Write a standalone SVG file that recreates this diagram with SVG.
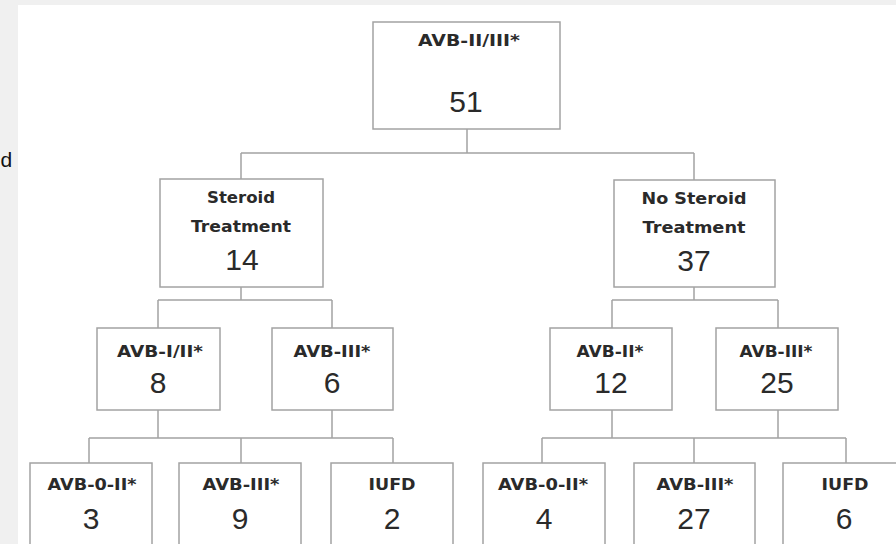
<svg xmlns="http://www.w3.org/2000/svg" width="896" height="544" viewBox="0 0 896 544">
<style>
.box{fill:#ffffff;stroke:#a3a3a3;stroke-width:1.5}
.ln{stroke:#a3a3a3;stroke-width:1.5;fill:none}
.lb{font-family:"DejaVu Sans","Liberation Sans",sans-serif;font-weight:bold;font-size:16px;fill:#2a2a2a;text-anchor:middle}
.num{font-family:"Liberation Sans","Open Sans",sans-serif;font-size:30px;fill:#2a2a2a;text-anchor:middle}
</style>
<rect x="0" y="0" width="896" height="544" fill="#f0f0f0"/>
<rect x="18" y="5" width="878" height="539" fill="#ffffff"/>
<text x="0.5" y="167" font-family="Liberation Sans, sans-serif" font-size="21" fill="#111">d</text>
<g id="connectors" class="ln">
<path d="M467 129V153M241 153H694M241 153V179M694 153V180"/>
<path d="M241 287V300M158 300H332M158 300V328M332 300V328"/>
<path d="M694 287V300M612 300H778M612 300V328M778 300V328"/>
<path d="M158 410V438M332 410V438M89 438H393M89 438V463M241 438V463M393 438V463"/>
<path d="M612 410V438M778 410V438M542 438H846M542 438V463M694 438V463M846 438V463"/>
</g>
<g id="root"><rect class="box" x="373" y="22" width="187" height="107"/><text class="lb" x="469" y="46" textLength="102" lengthAdjust="spacingAndGlyphs">AVB-II/III*</text><text class="num" x="466" y="112">51</text></g>
<g id="steroid"><rect class="box" x="160" y="179" width="163" height="108"/><text class="lb" x="241" y="203" textLength="68" lengthAdjust="spacingAndGlyphs">Steroid</text><text class="lb" x="241" y="232" textLength="100" lengthAdjust="spacingAndGlyphs">Treatment</text><text class="num" x="242" y="270">14</text></g>
<g id="nosteroid"><rect class="box" x="614" y="180" width="161" height="107"/><text class="lb" x="694" y="204" textLength="105" lengthAdjust="spacingAndGlyphs">No Steroid</text><text class="lb" x="694" y="233" textLength="103" lengthAdjust="spacingAndGlyphs">Treatment</text><text class="num" x="694" y="271">37</text></g>
<g id="s-avb12"><rect class="box" x="97" y="328" width="123" height="82"/><text class="lb" x="160" y="357" textLength="86" lengthAdjust="spacingAndGlyphs">AVB-I/II*</text><text class="num" x="158" y="393">8</text></g>
<g id="s-avb3"><rect class="box" x="272" y="328" width="121" height="82"/><text class="lb" x="332" y="357" textLength="77" lengthAdjust="spacingAndGlyphs">AVB-III*</text><text class="num" x="332" y="393">6</text></g>
<g id="n-avb2"><rect class="box" x="550" y="328" width="122" height="82"/><text class="lb" x="610" y="357" textLength="67" lengthAdjust="spacingAndGlyphs">AVB-II*</text><text class="num" x="611" y="393">12</text></g>
<g id="n-avb3"><rect class="box" x="716" y="328" width="122" height="82"/><text class="lb" x="776" y="357" textLength="73" lengthAdjust="spacingAndGlyphs">AVB-III*</text><text class="num" x="777" y="393">25</text></g>
<g id="s-out1"><rect class="box" x="30" y="463" width="122" height="90"/><text class="lb" x="92" y="490" textLength="89" lengthAdjust="spacingAndGlyphs">AVB-0-II*</text><text class="num" x="91" y="529">3</text></g>
<g id="s-out2"><rect class="box" x="179" y="463" width="122" height="90"/><text class="lb" x="241" y="490" textLength="77" lengthAdjust="spacingAndGlyphs">AVB-III*</text><text class="num" x="240" y="529">9</text></g>
<g id="s-out3"><rect class="box" x="331" y="463" width="122" height="90"/><text class="lb" x="392" y="490" textLength="47" lengthAdjust="spacingAndGlyphs">IUFD</text><text class="num" x="392" y="529">2</text></g>
<g id="n-out1"><rect class="box" x="483" y="463" width="122" height="90"/><text class="lb" x="543" y="490" textLength="90" lengthAdjust="spacingAndGlyphs">AVB-0-II*</text><text class="num" x="544" y="529">4</text></g>
<g id="n-out2"><rect class="box" x="634" y="463" width="121" height="90"/><text class="lb" x="695" y="490" textLength="77" lengthAdjust="spacingAndGlyphs">AVB-III*</text><text class="num" x="694" y="529">27</text></g>
<g id="n-out3"><rect class="box" x="783" y="463" width="122" height="90"/><text class="lb" x="845" y="490" textLength="47" lengthAdjust="spacingAndGlyphs">IUFD</text><text class="num" x="844" y="529">6</text></g>
</svg>
